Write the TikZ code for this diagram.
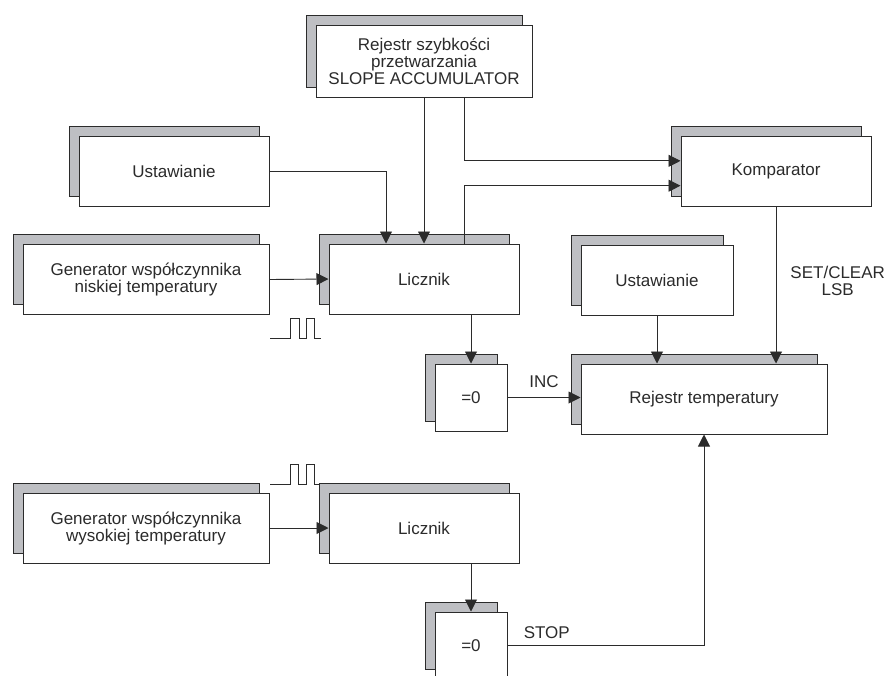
\documentclass[tikz,border=0pt]{standalone}
\usepackage{fontspec}
\setmainfont{Liberation Sans}
\usetikzlibrary{arrows.meta,calc,shadows}
\definecolor{ink}{HTML}{2B2B2B}
\definecolor{cien}{HTML}{BEBFC3}

\begin{document}
\begin{tikzpicture}[x=1pt,y=-1pt,>={Triangle[length=12pt,width=12pt]},line width=1pt,every node/.style={font=\fontsize{17}{17}\selectfont,text=ink},blok/.style={draw=ink,fill=white,inner sep=0pt,align=center,minimum width=190pt,minimum height=70pt,copy shadow={shadow xshift=-10pt,shadow yshift=10pt,fill=cien,draw=ink}},szeroki/.style={blok,minimum width=246pt},zero/.style={blok,minimum width=72pt,minimum height=67pt},opis/.style={inner sep=0pt,align=center},linia/.style={ink,line width=.9pt},flow/.style={->,linia}]
\path[use as bounding box] (0,0) rectangle (885,675);


\node[blok,minimum width=216pt,minimum height=72pt] (rejestrS) at (424,61) {Rejestr szybkości\\przetwarzania\\SLOPE ACCUMULATOR};
\node[blok] (ustaw1) at (174,171) {Ustawianie};
\node[blok] (komp) at (776,171.5) {Komparator};
\node[szeroki] (genN) at (146,279.5) {Generator współczynnika\\niskiej temperatury};
\node[blok] (licznik1) at (424,279) {Licznik};
\node[blok,minimum width=152pt] (ustaw2) at (657,280) {Ustawianie};
\node[zero] (zero1) at (471,397.5) {=0};
\node[szeroki] (rejestrT) at (704,399) {Rejestr temperatury};
\node[szeroki] (genW) at (146,528) {Generator współczynnika\\wysokiej temperatury};
\node[blok] (licznik2) at (424,528) {Licznik};
\node[zero] (zero2) at (471,645.5) {=0};
\coordinate (kin1) at ($(komp.north west)!.35!(komp.south west)$);
\coordinate (kin2) at ($(komp.north west)!.70!(komp.south west)$);
\coordinate (odS) at ([xshift=40pt]rejestrS.south);
\coordinate (doL) at ([xshift=40pt]licznik1.north);
\coordinate (ustL) at ([xshift=-38pt]licznik1.north);
\draw[flow] (rejestrS.south -| licznik1.north) -- (licznik1.north);
\draw[flow] (odS) |- (kin1);
\draw[flow] (doL) |- (kin2);
\draw[flow] (ustaw1.east) -| (ustL);
\draw[flow] (genN.east) -- (licznik1.west);
\draw[flow] (licznik1.south -| zero1.north) -- (zero1.north);
\draw[flow] (zero1.east) -- (zero1.east -| rejestrT.west) node[opis,midway,above=9pt] (inc) {INC};
\draw[flow] (ustaw2.south) -- (ustaw2.south |- rejestrT.north);
\draw[flow] (komp.south) -- (komp.south |- rejestrT.north) node[opis,pos=.47,right=14pt] (setclr) {SET/CLEAR\\LSB};
\draw[flow] (genW.east) -- (licznik2.west);
\draw[flow] (licznik2.south -| zero2.north) -- (zero2.north);
\draw[flow] (zero2.east) -| (rejestrT.south) node[opis,pos=.1,above=6pt] (stop) {STOP};
\draw[linia] (270,338) -- ++(20,0) -- ++(0,-20) -- ++(9,0) -- ++(0,20) -- ++(7,0) -- ++(0,-20) -- ++(8,0) -- ++(0,20) -- ++(7,0);
\draw[linia] (270,484) -- ++(20,0) -- ++(0,-20) -- ++(8,0) -- ++(0,20) -- ++(8,0) -- ++(0,-20) -- ++(8,0) -- ++(0,20) -- ++(5,0);

\end{tikzpicture}
\end{document}
